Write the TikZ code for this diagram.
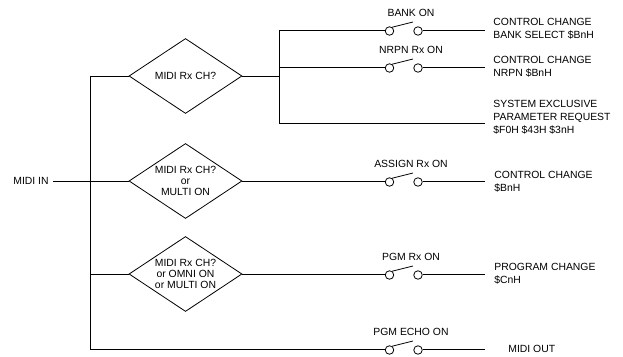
\documentclass[tikz,border=0pt]{standalone}
\usepackage{fontspec}
\setmainfont{Liberation Sans}
\usetikzlibrary{shapes.geometric}
\begin{document}
\begin{tikzpicture}[x=1pt,y=-1pt,line width=0.8pt,
  dia/.style={shape=diamond,draw,minimum width=113pt,minimum height=75pt,aspect=1.5,inner sep=0pt,align=center,font=\fontsize{10.4}{11}\selectfont},
  ctc/.style={circle,draw,minimum size=8.5pt,inner sep=0pt},
  lab/.style={inner sep=0pt,font=\fontsize{10.4}{12}\selectfont},
  outtxt/.style={inner sep=0pt,anchor=west,align=left,font=\fontsize{10.4}{13}\selectfont}]
\useasboundingbox (0,0) rectangle (623,356);

% input
\node[lab,anchor=east] (midiin) at (49,181) {MIDI IN};
\coordinate (busT) at (90,76);
\coordinate (busM) at (90,181);
\coordinate (busL) at (90,274);
\coordinate (busB) at (90,349);

% diamonds
\node[dia] (d1) at (185.5,76) {MIDI Rx CH?};
\node[dia] (d2) at (185.5,181) {MIDI Rx CH?\\or\\MULTI ON};
\node[dia] (d3) at (185.5,274) {MIDI Rx CH?\\or OMNI ON\\or MULTI ON};

\draw (busT) -- (busB);
\draw (busT) -- (d1.west);
\draw (midiin.east) ++(4,0) coordinate (inS) (inS) -- (d2.west);
\draw (busL) -- (d3.west);

% right bus of first diamond
\coordinate (rbT) at (279,30);
\coordinate (rbN) at (279,67);
\coordinate (rbS) at (279,123);
\coordinate (rbM) at (279,76);
\draw (rbT) -- (rbS);
\draw (d1.east) -- (rbM);

% switches
\foreach \n/\y/\t in {a/30/BANK ON, b/67/NRPN Rx ON, c/181/ASSIGN Rx ON, d/274/PGM Rx ON, e/349/PGM ECHO ON}{
  \node[ctc] (sl\n) at (389.5,\y+1) {};
  \node[ctc] (sr\n) at (418,\y+1) {};
  \coordinate (lv\n) at (413,\y-8);
  \draw (sl\n.55) -- (lv\n);
  \coordinate (end\n) at (485,\y);
  \draw (sr\n.east |- end\n) -- (end\n);
  \node[lab] (lab\n) at (411,\y-17) {\t};
}
\draw (rbT) -- (sla.west |- rbT);
\draw (rbN) -- (slb.west |- rbN);
\draw (d2.east) -- (slc.west |- d2.east);
\draw (d3.east) -- (sld.west |- d3.east);
\draw (busB) -- (sle.west |- busB);
\coordinate (endx) at (485,123);
\draw (rbS) -- (endx);

% outputs
\node[outtxt] (oa) at (493,28.5) {CONTROL CHANGE\\BANK SELECT \$BnH};
\node[outtxt] (ob) at (493,67) {CONTROL CHANGE\\NRPN \$BnH};
\node[outtxt] (ox) at (493,117) {SYSTEM EXCLUSIVE\\PARAMETER REQUEST\\\$F0H \$43H \$3nH};
\node[outtxt] (oc) at (494,181.5) {CONTROL CHANGE\\\$BnH};
\node[outtxt] (od) at (494,273.5) {PROGRAM CHANGE\\\$CnH};
\node[outtxt] (oe) at (508,349) {MIDI OUT};
\end{tikzpicture}
\end{document}
